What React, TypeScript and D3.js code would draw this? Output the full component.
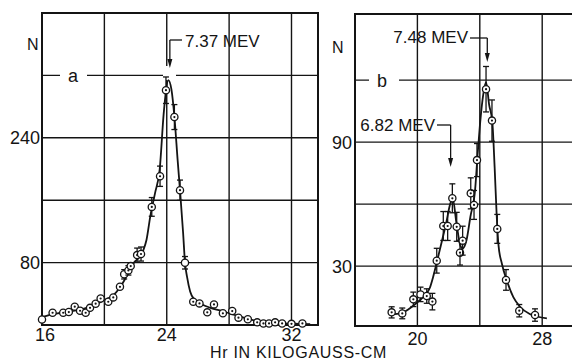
import React from 'react';
import * as d3 from 'd3';

// ---- panel a (7.37 MeV line) ----
const aX = [16.0, 16.68, 17.36, 17.72, 18.1, 18.44, 18.8, 19.08, 19.44, 19.76, 20.25, 20.57, 21.0, 21.27, 21.54, 21.69, 22.1, 22.35, 23.04, 23.57, 23.95, 24.49, 24.85, 25.17, 25.7, 26.1, 26.6, 27.03, 27.6, 28.2, 28.6, 29.2, 29.8, 30.2, 30.56, 30.95, 31.4, 32.0, 32.7];
const aN = [7, 15.7, 15.7, 16.6, 23.5, 18.3, 15.7, 22, 27.3, 34, 29.8, 35.4, 49, 65, 70, 75.5, 89.6, 91, 151.4, 190.7, 301, 266.6, 172.8, 79.8, 29.8, 27.7, 16.2, 26.4, 15, 17.9, 9.4, 7.3, 3.4, 2, 2, 3.4, 2, 1.5, 2];
const aErr = [0, 0, 0, 0, 0, 0, 0, 0, 0, 0, 0, 0, 0, 6, 6, 0, 9, 9, 12, 13, 17, 16, 13, 8, 0, 0, 0, 0, 0, 0, 0, 0, 0, 0, 0, 0, 0, 0, 0];
const aOpen = [0, 13, 23];
const aFitX = [16, 16.5, 17, 17.5, 18, 18.5, 19, 19.5, 20, 20.5, 21, 21.3, 21.6, 21.9, 22.2, 22.5, 22.7, 22.95, 23.25, 23.55, 23.8, 23.95, 24.1, 24.3, 24.5, 24.7, 24.85, 25.05, 25.17, 25.3, 25.5, 25.8, 26.2, 26.8, 27.5, 28.2, 29, 29.8, 30.6, 31.5, 32.5, 33.2];
const aFitN = [10, 13, 15, 16.5, 18, 20, 23, 27, 32, 37, 48, 58, 70, 80, 86, 96, 109, 140, 169, 200, 270, 300, 314, 302, 265, 211, 173, 118, 80, 62, 43, 32, 27, 22, 18, 14, 9, 5, 3, 2, 1.5, 1.2];
const aXGrid = [20, 24, 28, 32];
const aXLabels = [16, 24, 32];
const aYGrid = [80, 160, 240, 320];
const aYLabels = [80, 240];

// ---- panel b (6.82 / 7.48 MeV lines) ----
const bX = [18.35, 19.03, 19.74, 20.2, 20.6, 20.96, 21.24, 21.66, 21.94, 22.24, 22.52, 22.73, 22.9, 23.42, 23.63, 23.82, 24.4, 24.78, 25.12, 25.68, 26.53, 27.54];
const bN = [7.6, 7.1, 13.9, 16.3, 15.5, 12.8, 32.6, 49.4, 49.4, 62.8, 49, 36.5, 42.3, 65.2, 59.6, 81.3, 115.6, 100.4, 48, 23.3, 8.4, 6.3];
const bErr = [2.7, 2.6, 3.5, 3.5, 3.5, 4, 6, 7, 7, 7, 7, 6, 7, 7.5, 7, 8, 11, 10, 7, 5, 3, 3];
const bOpen = [3];
const bFitX = [18.3, 19.0, 19.5, 20.0, 20.5, 20.8, 21.0, 21.25, 21.6, 21.85, 22.1, 22.26, 22.5, 22.75, 22.9, 23.15, 23.4, 23.7, 23.86, 24.0, 24.22, 24.4, 24.6, 24.8, 24.95, 25.08, 25.2, 25.42, 25.73, 26.15, 26.58, 27.2, 28.3];
const bFitN = [6.5, 7.3, 9.5, 12.5, 16, 19.5, 24.5, 32, 43, 51, 60, 62.7, 51, 40, 38.5, 42.6, 54, 67, 84, 97.5, 113, 119, 108, 100, 78, 55, 40, 31, 23, 15, 10.3, 6.8, 4.7];
const bXGrid = [20, 24, 28];
const bXLabels = [20, 28];
const bYGrid = [30, 60, 90, 120];
const bYLabels = [30, 90];

const annLabel = ['7.37 MEV', '7.48 MEV', '6.82 MEV'];
const annX = [24.2, 24.48, 22.13];

const font = '"Liberation Sans", Arial, sans-serif';
const ink = '#141414';

function Arrow({ x, y0, tip, x1 }: { x: number; y0: number; tip: number; x1: number }) {
  return (
    <g>
      <line x1={x1} y1={y0} x2={x} y2={y0} stroke={ink} strokeWidth={1.3} />
      <line x1={x} y1={y0} x2={x} y2={tip - 6} stroke={ink} strokeWidth={1.3} />
      <path d={`M${x - 2.5},${tip - 9} L${x + 2.5},${tip - 9} L${x},${tip} Z`} fill={ink} />
    </g>
  );
}

function Marks({ xs, ns, errs, open, x, y }: any) {
  return (
    <g>
      {xs.map((v: number, i: number) => {
        const cx = x(v);
        const cy = y(ns[i]);
        const e = errs[i];
        return (
          <g key={i}>
            {e > 0 && (
              <g stroke={ink} strokeWidth={1.3}>
                <line x1={cx} x2={cx} y1={y(ns[i] - e)} y2={y(ns[i] + e)} />
                <line x1={cx - 3} x2={cx + 3} y1={y(ns[i] - e)} y2={y(ns[i] - e)} />
                <line x1={cx - 3} x2={cx + 3} y1={y(ns[i] + e)} y2={y(ns[i] + e)} />
              </g>
            )}
            <circle cx={cx} cy={cy} r={3.6} fill="white" stroke={ink} strokeWidth={1.3} />
            {!open.includes(i) && <circle cx={cx} cy={cy} r={1.1} fill={ink} />}
          </g>
        );
      })}
    </g>
  );
}

export default function App() {
  const ax = d3.scaleLinear().domain([16, 33.7]).range([42, 318]);
  const ay = d3.scaleLinear().domain([0, 400]).range([325, 13]);
  const bx = d3.scaleLinear().domain([16, 30]).range([355, 573.4]);
  const by = d3.scaleLinear().domain([1, 152]).range([326, 14]);

  const aLine = d3.line<number>().x((d) => ax(d)).y((_, i) => ay(aFitN[i])).curve(d3.curveMonotoneX);
  const bLine = d3.line<number>().x((d) => bx(d)).y((_, i) => by(bFitN[i])).curve(d3.curveMonotoneX);

  const grid = { stroke: ink, strokeWidth: 1.4 };
  const tick = { fontFamily: font, fontSize: 18, fill: ink };

  return (
    <svg width={572} height={362} style={{ position: 'absolute', left: 0, top: 0, background: 'white' }}>
      <rect width={572} height={362} fill="white" />

      {/* panel a grid */}
      {aXGrid.map((v) => (
        <line key={'ax' + v} x1={ax(v)} x2={ax(v)} y1={ay(0)} y2={ay(400)} {...grid} />
      ))}
      {aYGrid.map((v) => (
        <line key={'ay' + v} x1={ax(16)} x2={ax(33.7)} y1={ay(v)} y2={ay(v)} {...grid} />
      ))}
      <rect x={ax(16)} y={ay(400)} width={ax(33.7) - ax(16)} height={ay(0) - ay(400)} fill="none" stroke={ink} strokeWidth={2} />

      {/* panel b grid */}
      {bXGrid.map((v) => (
        <line key={'bx' + v} x1={bx(v)} x2={bx(v)} y1={by(1)} y2={by(152)} {...grid} />
      ))}
      {bYGrid.map((v) => (
        <line key={'by' + v} x1={bx(16)} x2={bx(30)} y1={by(v)} y2={by(v)} {...grid} />
      ))}
      <path d={`M${bx(30)},${by(152)} H${bx(16)} V${by(1)} H${bx(30)}`} fill="none" stroke={ink} strokeWidth={2} />

      {/* breaks in grid for labels */}
      <rect x={60} y={ay(320) - 7} width={27} height={14} fill="white" />
      <rect x={163} y={66} width={13} height={14} fill="white" />
      <rect x={369} y={by(120) - 7} width={30} height={14} fill="white" />

      {/* tick labels */}
      {aXLabels.map((v) => (
        <text key={'axl' + v} x={ax(v) + (v === 16 ? 3 : 0)} y={ay(0) + 16} textAnchor="middle" {...tick}>{v}</text>
      ))}
      {aYLabels.map((v) => (
        <text key={'ayl' + v} x={ax(16) - 2} y={ay(v)} dy="0.36em" textAnchor="end" {...tick}>{v}</text>
      ))}
      {bXLabels.map((v) => (
        <text key={'bxl' + v} x={bx(v)} y={by(1) + 19} textAnchor="middle" {...tick}>{v}</text>
      ))}
      {bYLabels.map((v) => (
        <text key={'byl' + v} x={bx(16) - 3} y={by(v)} dy="0.36em" textAnchor="end" {...tick}>{v}</text>
      ))}

      <text x={27} y={50} fontFamily={font} fontSize={16} fill={ink}>N</text>
      <text x={332} y={53} fontFamily={font} fontSize={16} fill={ink}>N</text>
      <text x={68} y={ay(320)} dy="0.36em" fontFamily={font} fontSize={18} fill={ink}>a</text>
      <text x={377} y={by(120)} dy="0.36em" fontFamily={font} fontSize={18} fill={ink}>b</text>

      {/* curves and data */}
      <path d={aLine(aFitX) || ''} fill="none" stroke={ink} strokeWidth={1.8} />
      <path d={bLine(bFitX) || ''} fill="none" stroke={ink} strokeWidth={1.8} />
      <Marks xs={aX} ns={aN} errs={aErr} open={aOpen} x={ax} y={ay} />
      <Marks xs={bX} ns={bN} errs={bErr} open={bOpen} x={bx} y={by} />

      {/* annotations */}
      <Arrow x={ax(annX[0])} y0={40} tip={68} x1={182} />
      <text x={185} y={47} fontFamily={font} fontSize={17} fill={ink}>{annLabel[0]}</text>
      <Arrow x={bx(annX[1])} y0={38} tip={62} x1={470} />
      <text x={468} y={43} textAnchor="end" fontFamily={font} fontSize={17} fill={ink}>{annLabel[1]}</text>
      <Arrow x={bx(annX[2])} y0={125} tip={167} x1={437} />
      <text x={435} y={131} textAnchor="end" fontFamily={font} fontSize={17} fill={ink}>{annLabel[2]}</text>

      <text x={210} y={357.5} fontFamily={font} fontSize={16} letterSpacing={0.7} fill={ink}>Hr IN KILOGAUSS-CM</text>
    </svg>
  );
}
